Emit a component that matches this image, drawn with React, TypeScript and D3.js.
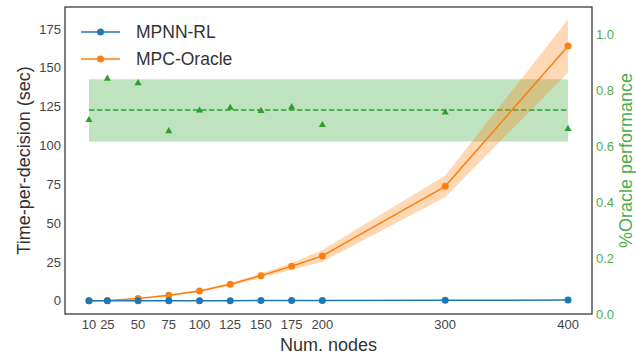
import React, { useEffect } from "react";
import * as d3 from "d3";

// node counts on the x axis
const nodes = [10, 25, 50, 75, 100, 125, 150, 175, 200, 300, 400];

// time per decision (sec)
const mpnnTime = [0.1, 0.1, 0.15, 0.15, 0.2, 0.2, 0.25, 0.25, 0.3, 0.4, 0.6];
const mpcTime = [0.2, 0.3, 1.5, 3.7, 6.4, 10.7, 16.3, 22.3, 29.0, 73.8, 164.1];
const mpcSpread = [0.1, 0.1, 0.2, 0.4, 0.6, 0.9, 1.4, 2.2, 3.8, 7.0, 17.0];

// %Oracle performance (right axis)
const oraclePerf = [0.695, 0.843, 0.827, 0.655, 0.729, 0.739, 0.728, 0.741, 0.677, 0.722, 0.663];
const oracleMean = 0.731;
const oracleBand = [0.618, 0.841];

const leftTicks = [0, 25, 50, 75, 100, 125, 150, 175];
const rightTicks = [0, 0.2, 0.4, 0.6, 0.8, 1.0];

const W = 636;
const H = 357;
const m = { left: 65, right: 592, top: 7, bottom: 314 };

const BLUE = "#1f77b4";
const ORANGE = "#ff7f0e";
const GREEN = "#2ca02c";
const LIGHT_GREEN = "#4cae4c";
const FONT = "'Liberation Sans', Arial, sans-serif";

export default function App() {
  useEffect(() => {
    document.body.style.margin = "0";
  }, []);

  const x = d3.scaleLinear().domain([-9.5, 419.5]).range([m.left, m.right]);
  const y = d3.scaleLinear().domain([-8.4, 189.2]).range([m.bottom, m.top]);
  const y2 = d3.scaleLinear().domain([0, 1.1]).range([m.bottom, m.top]);

  const idx = nodes.map((_, i) => i);
  const line = (vals: number[]) =>
    d3.line<number>().x((i) => x(nodes[i])).y((i) => y(vals[i]))(idx) || "";
  const band =
    d3
      .area<number>()
      .x((i) => x(nodes[i]))
      .y0((i) => y(mpcTime[i] - mpcSpread[i]))
      .y1((i) => y(mpcTime[i] + mpcSpread[i]))(idx) || "";
  const tri = d3.symbol(d3.symbolTriangle, 22)() || "";

  const x0 = x(nodes[0]);
  const x1 = x(nodes[nodes.length - 1]);
  const midY = (m.top + m.bottom) / 2;

  return (
    <svg width={W} height={H} style={{ display: "block", background: "#fff" }} fontFamily={FONT}>
      <defs>
        <clipPath id="plot">
          <rect x={m.left} y={m.top} width={m.right - m.left} height={m.bottom - m.top} />
        </clipPath>
      </defs>

      <g clipPath="url(#plot)">
        {/* oracle performance band */}
        <rect
          x={x0}
          y={y2(oracleBand[1])}
          width={x1 - x0}
          height={y2(oracleBand[0]) - y2(oracleBand[1])}
          fill={GREEN}
          opacity={0.3}
        />
        <line x1={x0} x2={x1} y1={y2(oracleMean)} y2={y2(oracleMean)} stroke={GREEN} strokeWidth={1.5} strokeDasharray="5.5,2.5" />
        {oraclePerf.map((v, i) => (
          <path key={i} d={tri} transform={`translate(${x(nodes[i])},${y2(v)})`} fill={GREEN} />
        ))}

        {/* MPC band + line */}
        <path d={band} fill={ORANGE} opacity={0.3} />
        <path d={line(mpcTime)} fill="none" stroke={ORANGE} strokeWidth={1.5} />
        {mpcTime.map((v, i) => (
          <circle key={i} cx={x(nodes[i])} cy={y(v)} r={3.5} fill={ORANGE} />
        ))}

        {/* MPNN line */}
        <path d={line(mpnnTime)} fill="none" stroke={BLUE} strokeWidth={1.5} />
        {mpnnTime.map((v, i) => (
          <circle key={i} cx={x(nodes[i])} cy={y(v)} r={3.5} fill={BLUE} />
        ))}
      </g>

      {/* frame */}
      <rect x={m.left} y={m.top} width={m.right - m.left} height={m.bottom - m.top} fill="none" stroke="#333" strokeWidth={1.25} />

      {/* left ticks */}
      {leftTicks.map((t) => (
        <text key={t} x={m.left - 4} y={y(t)} dy="0.35em" textAnchor="end" fontSize={13} fill="#444">
          {t}
        </text>
      ))}
      {/* right ticks */}
      {rightTicks.map((t) => (
        <text key={t} x={m.right + 4} y={y2(t)} dy="0.35em" textAnchor="start" fontSize={13} fill={LIGHT_GREEN}>
          {t.toFixed(1)}
        </text>
      ))}
      {/* x ticks */}
      {nodes.map((t) => (
        <text key={t} x={x(t)} y={m.bottom + 15} textAnchor="middle" fontSize={13} fill="#444">
          {t}
        </text>
      ))}

      {/* axis labels */}
      <text x={(m.left + m.right) / 2} y={351} textAnchor="middle" fontSize={18} fill="#333">
        Num. nodes
      </text>
      <text transform={`translate(30,${midY}) rotate(-90)`} textAnchor="middle" fontSize={18} fill="#333">
        Time-per-decision (sec)
      </text>
      <text transform={`translate(632,${midY}) rotate(-90)`} textAnchor="middle" fontSize={18} fill={LIGHT_GREEN}>
        %Oracle performance
      </text>

      {/* legend */}
      {[
        { label: "MPNN-RL", color: BLUE, cy: 32 },
        { label: "MPC-Oracle", color: ORANGE, cy: 59 },
      ].map((d) => (
        <g key={d.label}>
          <line x1={81} x2={120} y1={d.cy} y2={d.cy} stroke={d.color} strokeWidth={1.5} />
          <circle cx={100.5} cy={d.cy} r={3.5} fill={d.color} />
          <text x={136} y={d.cy} dy="0.35em" fontSize={17.5} fill="#333">
            {d.label}
          </text>
        </g>
      ))}
    </svg>
  );
}
